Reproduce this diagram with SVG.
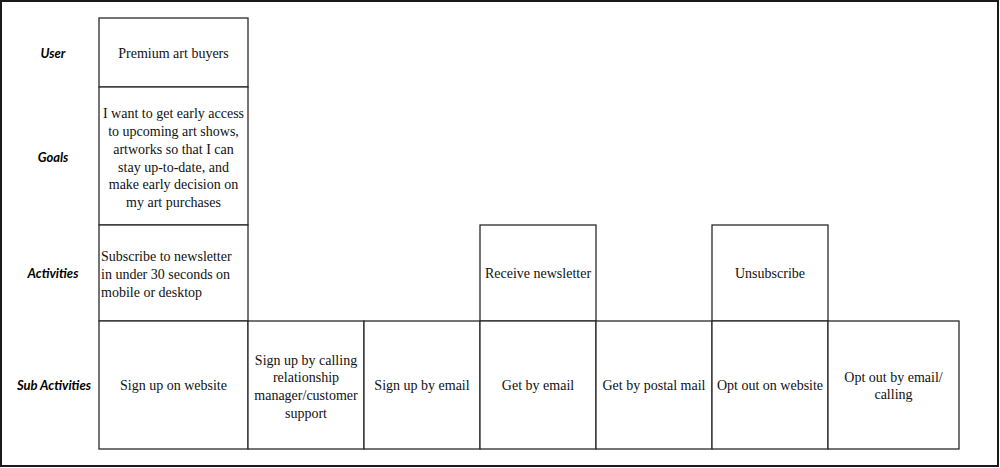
<svg xmlns="http://www.w3.org/2000/svg" width="1000" height="468" viewBox="0 0 1000 468">
<style>
.frame{fill:#fff;stroke:#1a1a1a;stroke-width:2}
.box{fill:#fff;stroke:#2a2a2a;stroke-width:1.3}
.t{font-family:"Liberation Serif","Times New Roman",serif;font-size:14px;fill:#111;text-anchor:middle}
.tl{text-anchor:start}
.lbl{font-family:Lato,"Liberation Sans",sans-serif;font-size:13px;font-weight:bold;font-style:italic;fill:#000;text-anchor:middle}
</style>
<rect class="frame" x="1" y="1" width="997" height="465"/>
<g id="labels">
<text class="lbl" x="53" y="58">User</text>
<text class="lbl" x="53" y="162">Goals</text>
<text class="lbl" x="53" y="278">Activities</text>
<text class="lbl" x="54" y="390">Sub Activities</text>
</g>
<g id="user">
<rect class="box" x="99" y="18" width="149" height="69"/>
<text class="t" x="173.5" y="58">Premium art buyers</text>
</g>
<g id="goals">
<rect class="box" x="99" y="87" width="149" height="138"/>
<text class="t" x="173.5" y="118">I want to get early access</text>
<text class="t" x="173.5" y="136">to upcoming art shows,</text>
<text class="t" x="173.5" y="154">artworks so that I can</text>
<text class="t" x="173.5" y="172">stay up-to-date, and</text>
<text class="t" x="173.5" y="189">make early decision on</text>
<text class="t" x="173.5" y="207">my art purchases</text>
</g>
<g id="activity-subscribe">
<rect class="box" x="99" y="225" width="149" height="96"/>
<text class="t tl" x="101" y="261">Subscribe to newsletter</text>
<text class="t tl" x="101" y="279">in under 30 seconds on</text>
<text class="t tl" x="101" y="297">mobile or desktop</text>
</g>
<g id="activity-receive">
<rect class="box" x="480" y="225" width="116" height="96"/>
<text class="t" x="538" y="278">Receive newsletter</text>
</g>
<g id="activity-unsubscribe">
<rect class="box" x="712" y="225" width="116" height="96"/>
<text class="t" x="770" y="278">Unsubscribe</text>
</g>
<g id="sub-website">
<rect class="box" x="99" y="321" width="149" height="128"/>
<text class="t" x="173.5" y="390">Sign up on website</text>
</g>
<g id="sub-calling">
<rect class="box" x="248" y="321" width="116" height="128"/>
<text class="t" x="306" y="365">Sign up by calling</text>
<text class="t" x="306" y="382">relationship</text>
<text class="t" x="306" y="400">manager/customer</text>
<text class="t" x="306" y="418">support</text>
</g>
<g id="sub-email">
<rect class="box" x="364" y="321" width="116" height="128"/>
<text class="t" x="422" y="390">Sign up by email</text>
</g>
<g id="sub-get-email">
<rect class="box" x="480" y="321" width="116" height="128"/>
<text class="t" x="538" y="390">Get by email</text>
</g>
<g id="sub-postal">
<rect class="box" x="596" y="321" width="116" height="128"/>
<text class="t" x="654" y="390">Get by postal mail</text>
</g>
<g id="sub-optout-web">
<rect class="box" x="712" y="321" width="116" height="128"/>
<text class="t" x="770" y="390">Opt out on website</text>
</g>
<g id="sub-optout-email">
<rect class="box" x="828" y="321" width="131" height="128"/>
<text class="t" x="893.5" y="382">Opt out by email/</text>
<text class="t" x="893.5" y="399">calling</text>
</g>
<g id="connectors"></g>
</svg>
